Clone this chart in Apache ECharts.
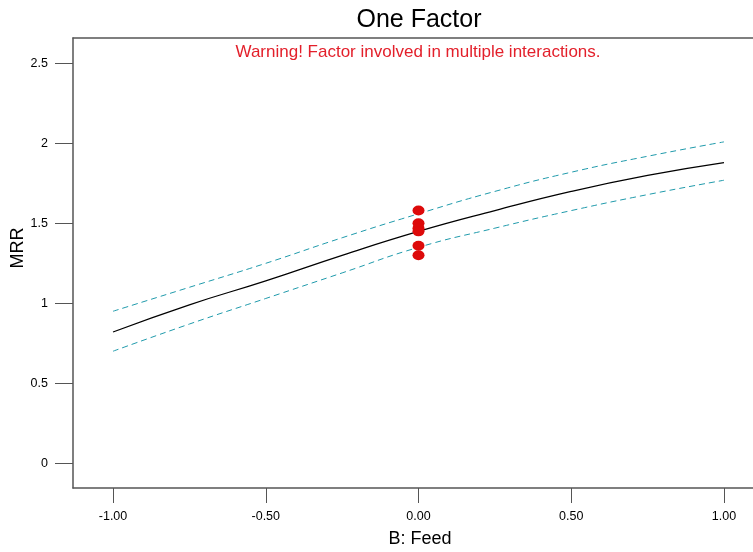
<!DOCTYPE html>
<html>
<head>
<meta charset="utf-8">
<script src="https://cdn.jsdelivr.net/npm/echarts@6/dist/echarts.min.js"></script>
<style>html,body{margin:0;padding:0;background:#fff;}#c{width:753px;height:552px;}</style>
</head>
<body>
<div id="c"></div>
<script>
const xTicks = [-1, -0.5, 0, 0.5, 1];
const yTicks = [0, 0.5, 1, 1.5, 2, 2.5];
const feed = [-1, -0.75, -0.5, -0.25, 0, 0.25, 0.5, 0.75, 1];
const mrrFit = [0.82, 0.99, 1.14, 1.30, 1.45, 1.58, 1.70, 1.80, 1.88];
const mrrUpper = [0.95, 1.10, 1.25, 1.41, 1.56, 1.70, 1.82, 1.92, 2.01];
const mrrLower = [0.70, 0.87, 1.03, 1.19, 1.35, 1.47, 1.58, 1.68, 1.77];
const obsFeed = [0, 0, 0, 0, 0, 0];
const obsMrr = [1.58, 1.50, 1.47, 1.45, 1.36, 1.30];

const pair = (xs, ys) => xs.map((x, i) => [x, ys[i]]);
const axisCol = '#555';
const font = 'Liberation Sans, Arial, sans-serif';
const chart = echarts.init(document.getElementById('c'));
chart.setOption({
  animation: false,
  graphic: [
    { type: 'text', x: 419, y: 8, style: { text: 'One Factor', textAlign: 'center', textVerticalAlign: 'top',
      font: 'normal 25px ' + font, fill: '#000' } },
    { type: 'text', x: 418, y: 44, style: { text: 'Warning! Factor involved in multiple interactions.',
      textAlign: 'center', textVerticalAlign: 'top', font: 'normal 17px ' + font, fill: '#e3202b' } }
  ],
  grid: { left: 73, right: 0, top: 38, bottom: 64, show: false, outerBoundsMode: 'none', containLabel: false },
  xAxis: [{
    type: 'value', min: -1.131, max: 1.095,
    name: 'B: Feed', nameLocation: 'middle', nameGap: 42, nameMoveOverlap: false,
    nameTextStyle: { fontFamily: font, fontSize: 18, color: '#000', padding: [0, 0, 0, 14] },
    axisLine: { show: true, onZero: false, lineStyle: { color: axisCol, width: 1.5 } },
    axisTick: { show: true, length: 15, customValues: xTicks, lineStyle: { color: axisCol } },
    axisLabel: { customValues: xTicks, margin: 22, color: '#000', fontFamily: font, fontSize: 12.5,
      formatter: v => v.toFixed(2) },
    splitLine: { show: false }
  }, {
    type: 'value', position: 'top', min: -1.131, max: 1.095,
    axisLine: { show: true, onZero: false, lineStyle: { color: axisCol, width: 1.5 } },
    axisTick: { show: false }, axisLabel: { show: false }, splitLine: { show: false }
  }],
  yAxis: {
    type: 'value', min: -0.156, max: 2.66,
    name: 'MRR', nameLocation: 'middle', nameGap: 46, nameRotate: 90, nameMoveOverlap: false,
    nameTextStyle: { fontFamily: font, fontSize: 18, color: '#000', padding: [0, 0, 0, 30] },
    axisLine: { show: true, onZero: false, lineStyle: { color: axisCol, width: 1.5 } },
    axisTick: { show: true, length: 18, customValues: yTicks, lineStyle: { color: axisCol } },
    axisLabel: { customValues: yTicks, margin: 25, color: '#000', fontFamily: font, fontSize: 12.5,
      formatter: v => String(v) },
    splitLine: { show: false }
  },
  series: [
    { type: 'line', data: pair(feed, mrrUpper), smooth: true, symbol: 'none',
      lineStyle: { color: '#1f9aab', width: 1, type: [6, 4] } },
    { type: 'line', data: pair(feed, mrrLower), smooth: true, symbol: 'none',
      lineStyle: { color: '#1f9aab', width: 1, type: [6, 4] } },
    { type: 'line', data: pair(feed, mrrFit), smooth: true, symbol: 'none',
      lineStyle: { color: '#000', width: 1.2 } },
    { type: 'scatter', data: pair(obsFeed, obsMrr), symbol: 'circle', symbolSize: [12, 10],
      itemStyle: { color: '#dd0a0a', opacity: 1 }, z: 5 }
  ]
});
</script>
</body>
</html>
